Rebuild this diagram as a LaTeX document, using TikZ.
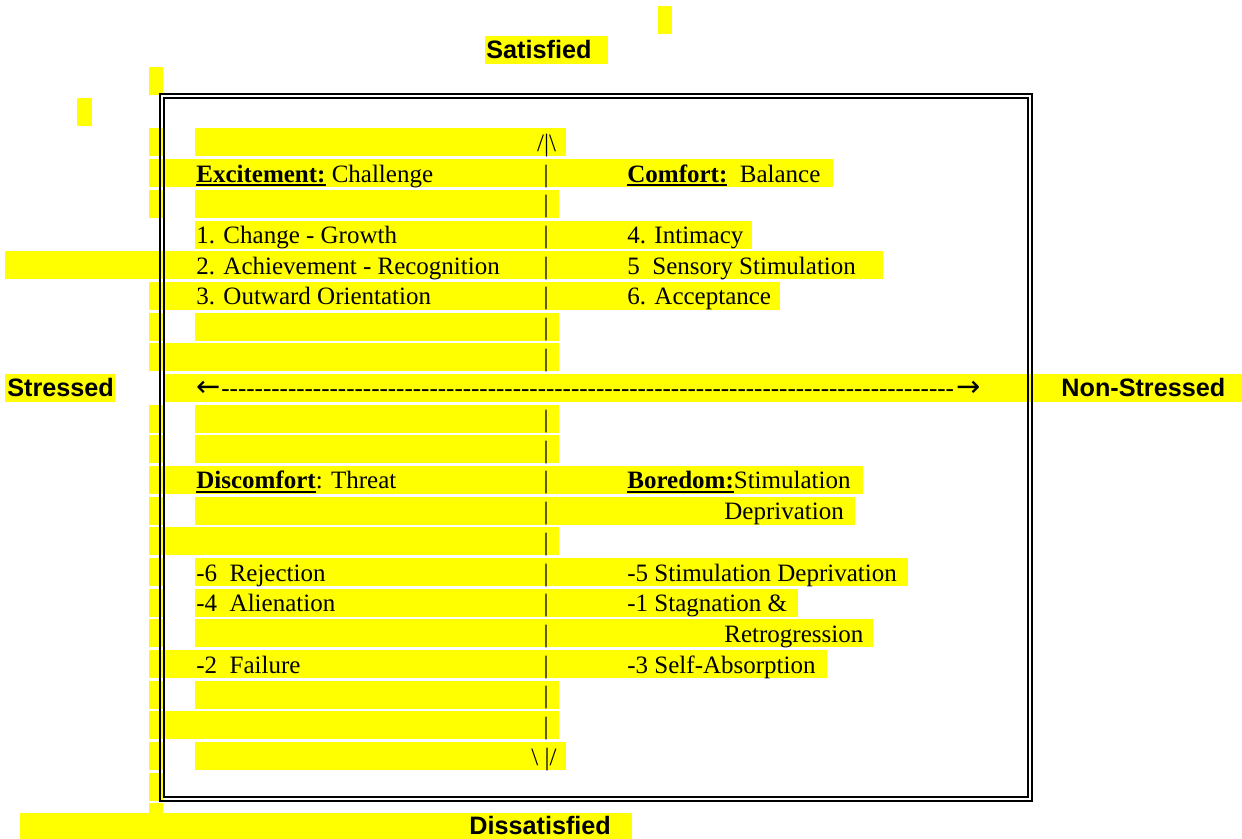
\documentclass[tikz,border=0pt]{standalone}
\usepackage{fontspec}
\setmainfont{Liberation Serif}
\setsansfont{Liberation Sans}
\newfontfamily\arrowfont{DejaVu Sans}

\definecolor{hilite}{RGB}{255,255,0}

\newsavebox\ulbox
\newcommand\ulhead[1]{\sbox\ulbox{#1}\rlap{\rule[-1.9pt]{\wd\ulbox}{0.8pt}}\usebox\ulbox}
\newcommand\dashrun[1]{\foreach \k in {1,...,#1}{-\kern0pt}}
\newcommand\rowy[1]{128.5+30.68*#1} % top of text row #1

\begin{document}
\begin{tikzpicture}[x=0.5pt, y=-0.5pt,
  txt/.style={anchor=base west, inner sep=0pt, font=\fontsize{12.5}{15}\selectfont},
  axis/.style={anchor=base west, inner sep=0pt, font=\sffamily\bfseries\fontsize{12.6}{15}\selectfont},
  bar/.style={anchor=base, inner sep=0pt, font=\fontsize{12.5}{15}\selectfont},
  tip/.style={anchor=base west, inner sep=0pt, font=\arrowfont\fontsize{14.5}{15}\selectfont}]
\useasboundingbox (0,0) rectangle (1242,839);

% highlighting of the rows
\foreach \r/\a/\b in {0/195/566, 1/149/833, 2/195/559, 3/195/752, 4/5/883, 5/149/780,
    6/195/559, 7/149/559, 8/164/1242, 9/195/559, 10/195/559, 11/149/863, 12/195/855,
    13/149/559, 14/195/908, 15/195/798, 16/195/873, 17/149/827, 18/195/559, 19/149/559,
    20/195/566, -3/485/608, 8/5/115, -4/658/672, -1/77/92}
  \fill[hilite] (\a,{\rowy{\r}}) rectangle (\b,{\rowy{\r}+28});
\foreach \r in {-2,0,2,6,9,10,12,14,15,16,18,20,21}
  \fill[hilite] (149,{\rowy{\r}}) rectangle (163,{\rowy{\r}+28});
\fill[hilite] (149,{\rowy{22}}) rectangle (163,813);
\fill[hilite] (20,813) rectangle (632,839);

% double frame
\draw[line width=1pt] (160,94) rectangle (1032,801);
\draw[line width=0.8pt] (164,98) rectangle (1028,797);

% the two axes
\node[axis] (sat) at (486,{\rowy{-3}+22}) {Satisfied};
\node[axis] (dis) at (469,834) {Dissatisfied};
\node[axis] (str) at (7,{\rowy{8}+22.5}) {Stressed};
\node[axis] (nonstr) at (1061,{\rowy{8}+22.5}) {Non-Stressed};

\node[bar] (up) at (546.5,{\rowy{0}+23}) {/|\textbackslash};
\foreach \r in {1,...,7,9,10,...,19}
  \node[bar] (bar\r) at (546,{\rowy{\r}+23}) {|};
\node[bar] (down) at (544,{\rowy{20}+23}) {\textbackslash\ |/};

\node[tip] (larr) at (196,{\rowy{8}+23}) {←};
\node[txt] (dashes) at (221,{\rowy{8}+23}) {\dashrun{88}};
\node[tip, anchor=base east] (rarr) at (981,{\rowy{8}+23}) {→};

% quadrants
\node[txt] (exc) at (196,{\rowy{1}+23}) {\ulhead{\textbf{Excitement:}} Challenge};
\node[txt] (l3) at (196,{\rowy{3}+23}) {1. Change - Growth};
\node[txt] (l4) at (196,{\rowy{4}+23}) {2. Achievement - Recognition};
\node[txt] (l5) at (196,{\rowy{5}+23}) {3. Outward Orientation};

\node[txt] (com) at (627,{\rowy{1}+23}) {\ulhead{\textbf{Comfort:}}~ Balance};
\node[txt] (r3) at (627,{\rowy{3}+23}) {4. Intimacy};
\node[txt] (r4) at (627,{\rowy{4}+23}) {5~ Sensory Stimulation};
\node[txt] (r5) at (627,{\rowy{5}+23}) {6. Acceptance};

\node[txt] (disc) at (196,{\rowy{11}+23}) {\ulhead{\textbf{Discomfort}}: Threat};
\node[txt] (l14) at (196,{\rowy{14}+23}) {-6~ Rejection};
\node[txt] (l15) at (196,{\rowy{15}+23}) {-4~ Alienation};
\node[txt] (l17) at (196,{\rowy{17}+23}) {-2~ Failure};

\node[txt] (bore) at (627,{\rowy{11}+23}) {\ulhead{\textbf{Boredom:}}Stimulation};
\node[txt] (r12) at (724,{\rowy{12}+23}) {Deprivation};
\node[txt] (r14) at (627,{\rowy{14}+23}) {-5 Stimulation Deprivation};
\node[txt] (r15) at (627,{\rowy{15}+23}) {-1 Stagnation \&};
\node[txt] (r16) at (724,{\rowy{16}+23}) {Retrogression};
\node[txt] (r17) at (627,{\rowy{17}+23}) {-3 Self-Absorption};
\end{tikzpicture}
\end{document}
